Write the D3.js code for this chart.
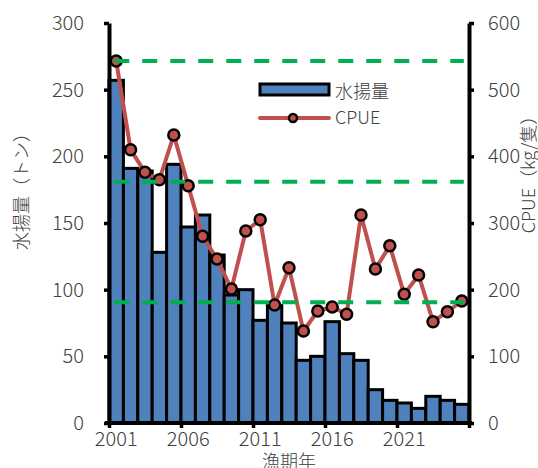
<!DOCTYPE html>
<html>
<head>
<meta charset="utf-8">
<script src="https://cdn.jsdelivr.net/npm/d3@7"></script>
<style>
  html, body { margin: 0; padding: 0; background: #fff; }
  svg { display: block; }
  text { font-family: "Noto Sans CJK JP", "Noto Sans", sans-serif; font-weight: 300; fill: #404040; }
</style>
</head>
<body>
<svg id="chart" width="538" height="468"></svg>
<script>
// ---- data ----
const years = ["2001","2002","2003","2004","2005","2006","2007","2008","2009","2010",
               "2011","2012","2013","2014","2015","2016","2017","2018","2019","2020",
               "2021","2022","2023","2024","2025"];
const catch_t = [257, 191, 189, 128, 194, 147, 156, 126, 96, 100,
                 77, 88, 75, 47, 50, 76, 52, 47, 25, 17,
                 15, 11, 20, 17, 14];
const cpue = [543, 410, 376, 365, 432, 356, 280, 246, 201, 288,
              305, 177, 233, 138, 168, 174, 163, 312, 231, 266,
              193, 222, 152, 167, 183];
const refLevels = [543, 362, 181];
const leftTicks = [0, 50, 100, 150, 200, 250, 300];
const rightTicks = [0, 100, 200, 300, 400, 500, 600];
const xTickLabels = ["2001", "2006", "2011", "2016", "2021"];
const xBoundaryTicks = [0, 5, 10, 15, 20, 25];

// ---- layout ----
const L = 109, R = 469, T = 23, B = 423;
const svg = d3.select("#chart");

const x = d3.scaleBand().domain(years).range([L, R]).padding(0);
const xi = d3.scaleLinear().domain([0, years.length]).range([L, R]);
const yL = d3.scaleLinear().domain([0, 300]).range([B, T]);
const yR = d3.scaleLinear().domain([0, 600]).range([B, T]);

// bars
svg.append("g").selectAll("rect").data(years).join("rect")
  .attr("x", d => x(d))
  .attr("y", (d, i) => yL(catch_t[i]))
  .attr("width", x.bandwidth())
  .attr("height", (d, i) => B - yL(catch_t[i]))
  .attr("fill", "#4F81BD")
  .attr("stroke", "#000")
  .attr("stroke-width", 3);

// axes
function styleAxis(g) {
  g.select(".domain").attr("stroke", "#000").attr("stroke-width", 4);
  g.selectAll(".tick line").attr("stroke", "#000").attr("stroke-width", 3.5);
  g.selectAll(".tick text").style("font-size", "20px").attr("fill", "#404040");
}
const gL = svg.append("g").attr("transform", `translate(${L},0)`)
  .call(d3.axisLeft(yL).tickValues(leftTicks).tickSize(5).tickSizeOuter(0).tickPadding(20));
styleAxis(gL);
const gR = svg.append("g").attr("transform", `translate(${R},0)`)
  .call(d3.axisRight(yR).tickValues(rightTicks).tickSize(5).tickSizeOuter(0).tickPadding(14));
styleAxis(gR);
const gB = svg.append("g").attr("transform", `translate(0,${B})`)
  .call(d3.axisBottom(xi).tickValues(xBoundaryTicks).tickFormat("").tickSize(5).tickSizeOuter(0));
styleAxis(gB);
gB.select(".domain").attr("d", `M${L - 4},0H${R + 3}`);
const gBL = svg.append("g").attr("transform", `translate(0,${B})`)
  .call(d3.axisBottom(x).tickValues(xTickLabels).tickSize(0).tickPadding(9));
gBL.select(".domain").remove();
gBL.selectAll(".tick text").style("font-size", "20px").attr("fill", "#404040");

// CPUE line
const line = d3.line()
  .x((d, i) => x(years[i]) + x.bandwidth() / 2)
  .y(d => yR(d));
svg.append("path").datum(cpue)
  .attr("d", line)
  .attr("fill", "none")
  .attr("stroke", "#C0504D")
  .attr("stroke-width", 4)
  .attr("stroke-linejoin", "round");
svg.append("g").selectAll("circle").data(cpue).join("circle")
  .attr("cx", (d, i) => x(years[i]) + x.bandwidth() / 2)
  .attr("cy", d => yR(d))
  .attr("r", 5.5)
  .attr("fill", "#C0504D")
  .attr("stroke", "#000")
  .attr("stroke-width", 2.5);

// reference dashed lines
const x0 = x(years[0]) + x.bandwidth() / 2 - 2;
const x1 = x(years[years.length - 1]) + x.bandwidth() / 2 + 2;
svg.append("g").selectAll("line").data(refLevels).join("line")
  .attr("x1", x0).attr("x2", x1)
  .attr("y1", d => yR(d)).attr("y2", d => yR(d))
  .attr("stroke", "#00B050")
  .attr("stroke-width", 4)
  .attr("stroke-dasharray", "15,13");

// legend
const lg = svg.append("g");
lg.append("rect").attr("x", 260).attr("y", 84).attr("width", 69).attr("height", 11)
  .attr("fill", "#4F81BD").attr("stroke", "#000").attr("stroke-width", 3);
lg.append("text").attr("x", 335).attr("y", 90).attr("dominant-baseline", "central")
  .style("font-size", "18px").text("水揚量");
lg.append("line").attr("x1", 260).attr("x2", 329).attr("y1", 118).attr("y2", 118)
  .attr("stroke", "#C0504D").attr("stroke-width", 4).attr("stroke-linecap", "round");
lg.append("circle").attr("cx", 293).attr("cy", 118).attr("r", 4)
  .attr("fill", "#C0504D").attr("stroke", "#000").attr("stroke-width", 2.5);
lg.append("text").attr("x", 335).attr("y", 116).attr("dominant-baseline", "central")
  .style("font-size", "18px").text("CPUE");

// axis titles
svg.append("text").attr("transform", "translate(20,187) rotate(-90)")
  .attr("text-anchor", "middle").attr("dominant-baseline", "central")
  .style("font-size", "18px").text("水揚量（トン）");
svg.append("text").attr("transform", "translate(527,170) rotate(-90)")
  .attr("text-anchor", "middle").attr("dominant-baseline", "central")
  .style("font-size", "18px").text("CPUE（kg/隻）");
svg.append("text").attr("x", (L + R) / 2).attr("y", 468)
  .attr("text-anchor", "middle")
  .style("font-size", "18px").text("漁期年");
</script>
</body>
</html>
